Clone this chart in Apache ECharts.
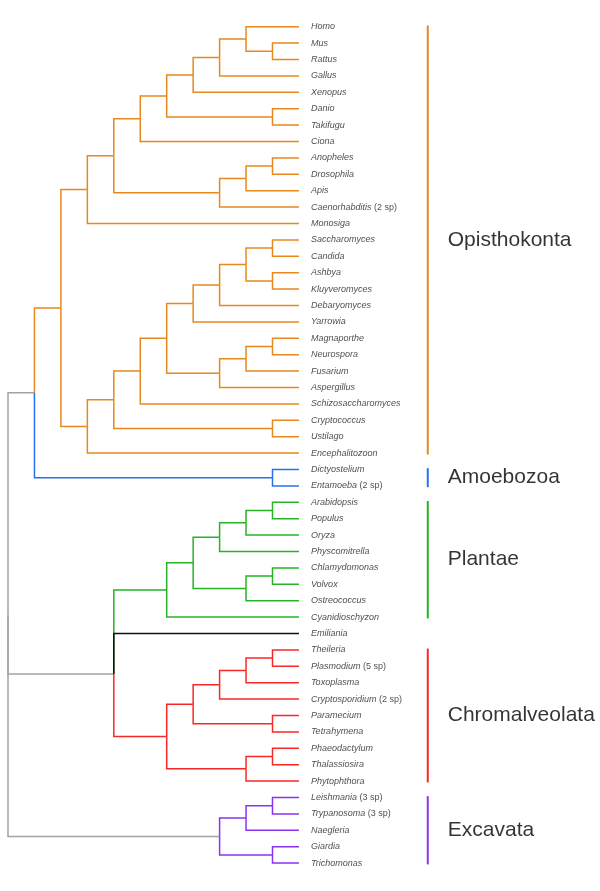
<!DOCTYPE html>
<html>
<head>
<meta charset="utf-8">
<script src="https://cdn.jsdelivr.net/npm/echarts@6/dist/echarts.min.js"></script>
<style>
  html, body { margin: 0; padding: 0; background: #fff; }
  #chart { width: 600px; height: 891px; }
</style>
</head>
<body>
<div id="chart"></div>
<script>
// ---------- DATA ----------
const genera = ['Homo','Mus','Rattus','Gallus','Xenopus','Danio','Takifugu','Ciona','Anopheles','Drosophila','Apis','Caenorhabditis','Monosiga','Saccharomyces','Candida','Ashbya','Kluyveromyces','Debaryomyces','Yarrowia','Magnaporthe','Neurospora','Fusarium','Aspergillus','Schizosaccharomyces','Cryptococcus','Ustilago','Encephalitozoon','Dictyostelium','Entamoeba','Arabidopsis','Populus','Oryza','Physcomitrella','Chlamydomonas','Volvox','Ostreococcus','Cyanidioschyzon','Emiliania','Theileria','Plasmodium','Toxoplasma','Cryptosporidium','Paramecium','Tetrahymena','Phaeodactylum','Thalassiosira','Phytophthora','Leishmania','Trypanosoma','Naegleria','Giardia','Trichomonas'];

const speciesNotes = [['Caenorhabditis','(2 sp)'],['Entamoeba','(2 sp)'],['Plasmodium','(5 sp)'],['Cryptosporidium','(2 sp)'],['Leishmania','(3 sp)'],['Trypanosoma','(3 sp)']];

// cladogram: [depth, ...children]; leaves are names (leaf depth = 11)
const tree = [0,
  [1,
    [2,
      [3,
        [4,
          [5,
            [6,
              [7,
                [8, [9, 'Homo', [10, 'Mus', 'Rattus']], 'Gallus'],
                'Xenopus'],
              [10, 'Danio', 'Takifugu']],
            'Ciona'],
          [8, [9, [10, 'Anopheles', 'Drosophila'], 'Apis'], 'Caenorhabditis']],
        'Monosiga'],
      [3,
        [4,
          [5,
            [6,
              [7, [8, [9, [10, 'Saccharomyces', 'Candida'], [10, 'Ashbya', 'Kluyveromyces']], 'Debaryomyces'], 'Yarrowia'],
              [8, [9, [10, 'Magnaporthe', 'Neurospora'], 'Fusarium'], 'Aspergillus']],
            'Schizosaccharomyces'],
          [10, 'Cryptococcus', 'Ustilago']],
        'Encephalitozoon']],
    [10, 'Dictyostelium', 'Entamoeba']],
  [4,
    [4,
      [6, [7, [8, [9, [10, 'Arabidopsis', 'Populus'], 'Oryza'], 'Physcomitrella'], [9, [10, 'Chlamydomonas', 'Volvox'], 'Ostreococcus']], 'Cyanidioschyzon'],
      'Emiliania'],
    [6, [7, [8, [9, [10, 'Theileria', 'Plasmodium'], 'Toxoplasma'], 'Cryptosporidium'], [10, 'Paramecium', 'Tetrahymena']], [9, [10, 'Phaeodactylum', 'Thalassiosira'], 'Phytophthora']]],
  [8, [9, [10, 'Leishmania', 'Trypanosoma'], 'Naegleria'], [10, 'Giardia', 'Trichomonas']]
];

const cladeNames = ['Opisthokonta', 'Amoebozoa', 'Plantae', 'Chromalveolata', 'Excavata'];
const cladeFirst = ['Homo', 'Dictyostelium', 'Arabidopsis', 'Theileria', 'Leishmania'];
const cladeLast  = ['Encephalitozoon', 'Entamoeba', 'Cyanidioschyzon', 'Phytophthora', 'Trichomonas'];

// ---------- STYLE ----------
const cladeColors = ['#E8891E', '#2A6FF0', '#26B426', '#F82828', '#8C32F0'];
const ROOT_COLOR = '#A3A3A3';
const UNPLACED_COLOR = '#111111';
const LEAF_DEPTH = 11;
const BAR_X = 15.87;      // clade bar column (x-axis units)
const BAR_PAD = 0.08;     // padding of clade bars (leaf-row units)
const FONT = '"Liberation Sans", Arial, sans-serif';

// ---------- LAYOUT ----------
const cladeOfLeaf = genera.map((g, i) => {
  for (let c = 0; c < cladeNames.length; c++) {
    if (i >= genera.indexOf(cladeFirst[c]) && i <= genera.indexOf(cladeLast[c])) return c;
  }
  return -1;
});

function layout(n) {
  if (typeof n === 'string') {
    const idx = genera.indexOf(n);
    return { d: LEAF_DEPTH, y: idx, leaves: [idx], kids: [] };
  }
  const kids = n.slice(1).map(layout);
  const y = (kids[0].y + kids[kids.length - 1].y) / 2;
  const leaves = [].concat(...kids.map(k => k.leaves));
  return { d: n[0], y, leaves, kids };
}

function drawKids(node) {
  // zero-length internal children are collapsed into the parent
  let out = [];
  node.kids.forEach(k => {
    if (k.kids.length && k.d === node.d) out = out.concat(drawKids(k));
    else out.push(k);
  });
  return out;
}

function colorOf(k) {
  const cs = new Set(k.leaves.map(i => cladeOfLeaf[i]));
  if (cs.size === 1) {
    const c = [...cs][0];
    return c < 0 ? UNPLACED_COLOR : cladeColors[c];
  }
  return ROOT_COLOR;
}

const edges = [];
function walk(node, isRoot) {
  drawKids(node).forEach(k => {
    edges.push({
      coords: [[node.d, node.y], [node.d, k.y], [k.d, k.y]],
      lineStyle: { color: isRoot ? ROOT_COLOR : colorOf(k) }
    });
    if (k.kids.length) walk(k, false);
  });
}
walk(layout(tree), true);

const noteOf = {};
speciesNotes.forEach(p => { noteOf[p[0]] = p[1]; });

const leafPoints = genera.map((g, i) => ({
  value: [LEAF_DEPTH, i],
  label: { formatter: '{it|' + g + '}' + (noteOf[g] ? '{n| ' + noteOf[g] + '}' : '') }
}));

const bars = cladeNames.map((c, ci) => ({
  coords: [[BAR_X, genera.indexOf(cladeFirst[ci]) - BAR_PAD], [BAR_X, genera.indexOf(cladeLast[ci]) + BAR_PAD]],
  lineStyle: { color: cladeColors[ci] }
}));
const cladeLabels = cladeNames.map((c, ci) => ({
  value: [BAR_X, (genera.indexOf(cladeFirst[ci]) + genera.indexOf(cladeLast[ci])) / 2],
  label: { formatter: c }
}));

// ---------- CHART ----------
const chart = echarts.init(document.getElementById('chart'), null, { renderer: 'canvas' });
chart.setOption({
  animation: false,
  backgroundColor: '#ffffff',
  grid: { left: 8, top: 26.7, width: 26.45 * LEAF_DEPTH, height: 16.4 * (genera.length - 1) },
  xAxis: { type: 'value', min: 0, max: LEAF_DEPTH, show: false },
  yAxis: { type: 'value', min: 0, max: genera.length - 1, inverse: true, show: false },
  series: [
    {
      type: 'lines', coordinateSystem: 'cartesian2d', polyline: true, clip: false,
      silent: true, lineStyle: { width: 1.5, opacity: 1, join: 'miter' },
      data: edges
    },
    {
      type: 'lines', coordinateSystem: 'cartesian2d', polyline: true, clip: false,
      silent: true, lineStyle: { width: 2, opacity: 1 },
      data: bars
    },
    {
      type: 'scatter', symbolSize: 0, clip: false, silent: true,
      label: {
        show: true, position: 'right', distance: 12, color: '#222', fontSize: 9, fontFamily: FONT,
        rich: {
          it: { fontStyle: 'italic', fontSize: 9, fontFamily: FONT, color: '#222' },
          n: { fontSize: 9, fontFamily: FONT, color: '#222' }
        }
      },
      data: leafPoints
    },
    {
      type: 'scatter', symbolSize: 0, clip: false, silent: true,
      label: { show: true, position: 'right', distance: 20, color: '#000', fontSize: 21, fontFamily: FONT },
      data: cladeLabels
    }
  ]
});
</script>
</body>
</html>
